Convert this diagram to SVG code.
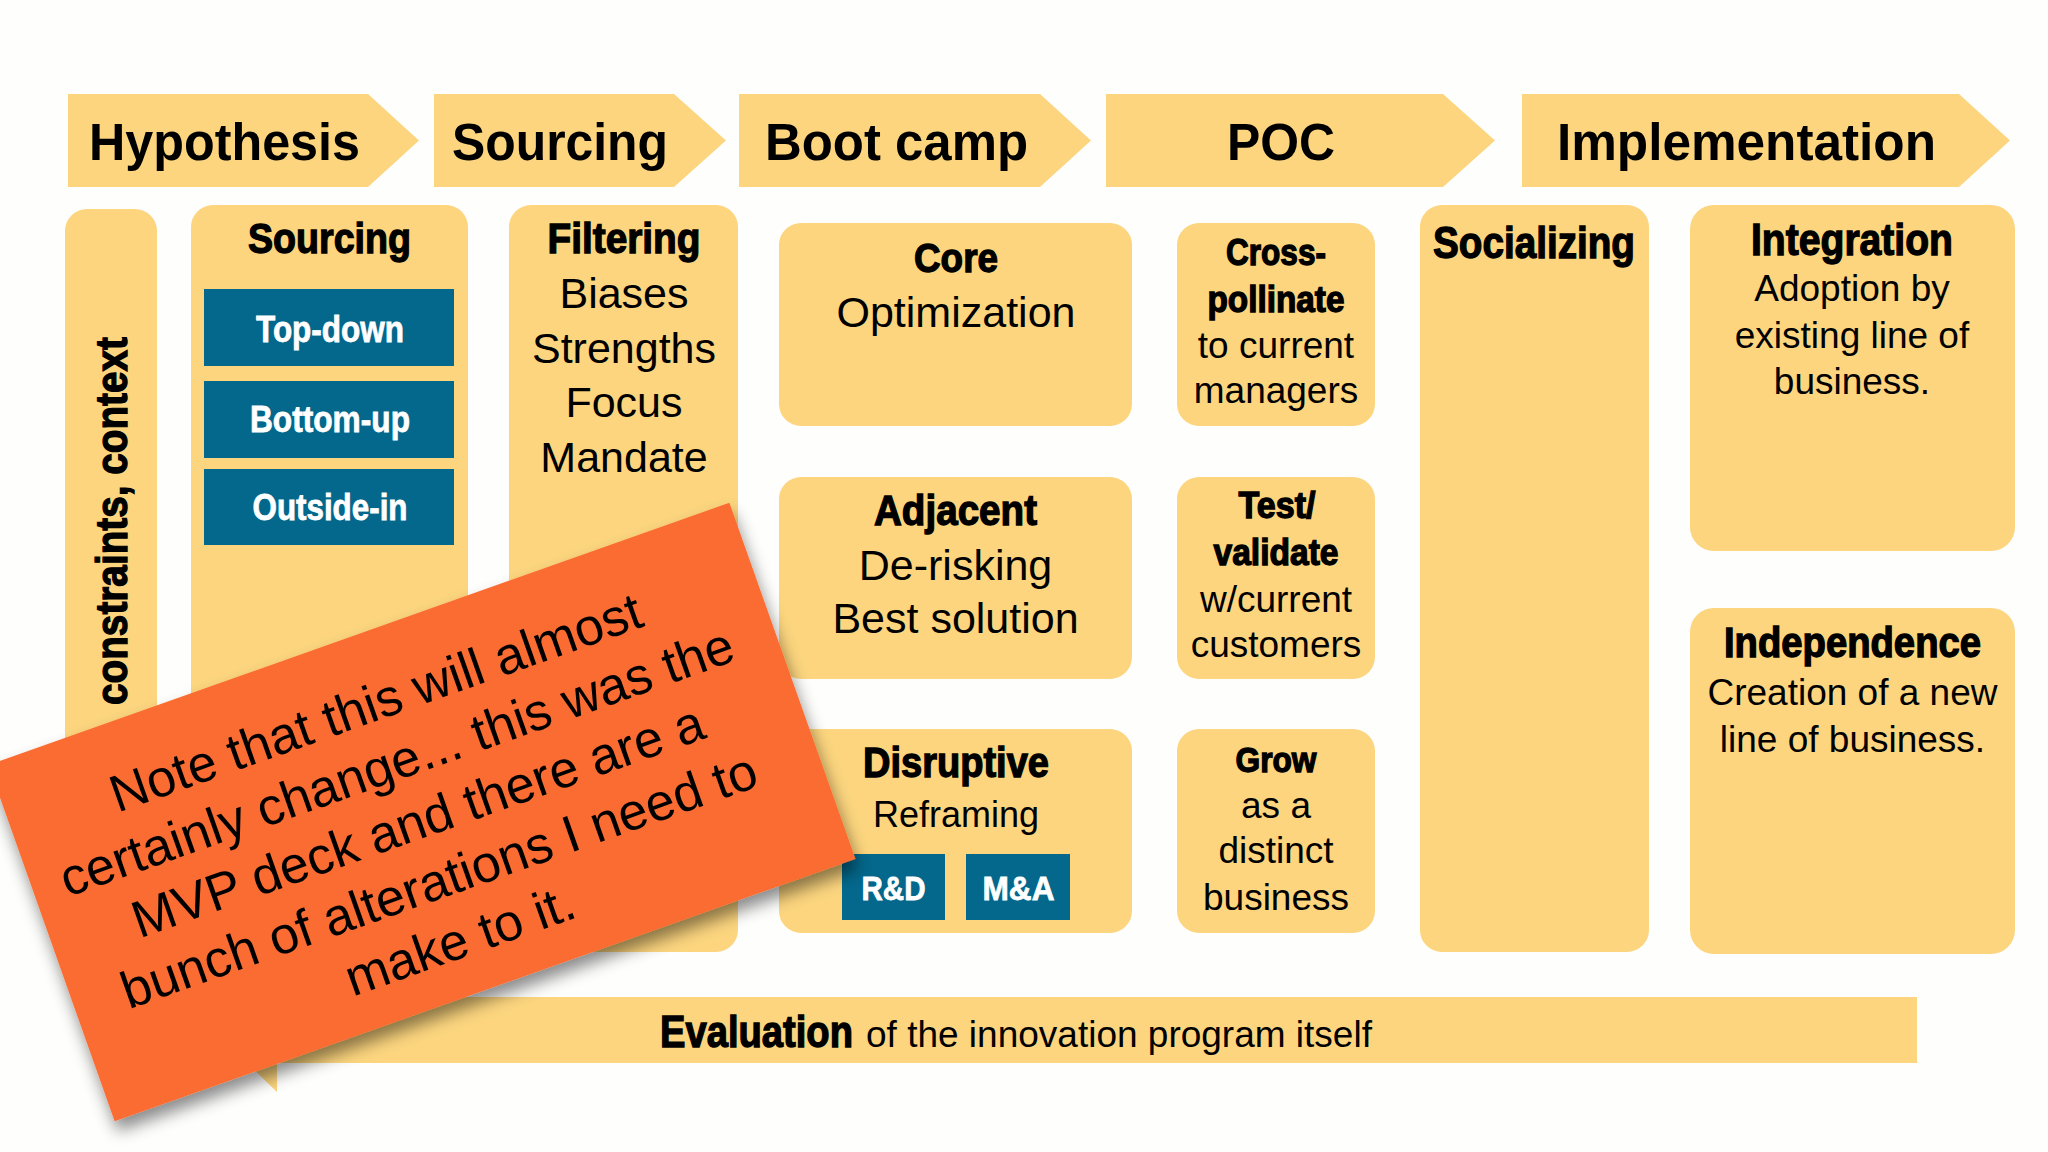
<svg xmlns="http://www.w3.org/2000/svg" width="2048" height="1152" viewBox="0 0 2048 1152">
  <defs>
    <filter id="shadow" x="-15%" y="-15%" width="130%" height="140%">
      <feDropShadow dx="3" dy="10" stdDeviation="8" flood-color="#000" flood-opacity="0.45"/>
    </filter>
  </defs>
  <style>
    .bg { fill: #fefefd; }
    .y { fill: #fcd57e; }
    .blue { fill: #03688c; }
    .note { fill: #fb6c32; }
    .hd { font-family: 'Liberation Sans', Arial, sans-serif; font-weight: bold; font-size: 51px; fill: #000; }
    .bc { font-family: 'Liberation Sans Narrow', 'Liberation Sans', Arial, sans-serif; font-weight: bold; fill: #000; stroke: #000; stroke-width: 1.3px; }
    .wc { font-family: 'Liberation Sans Narrow', 'Liberation Sans', Arial, sans-serif; font-weight: bold; fill: #fff; stroke: #fff; stroke-width: 0.8px; text-anchor: middle; }
    .rg { font-family: 'Liberation Sans', Arial, sans-serif; font-weight: normal; fill: #000; }
    .m { text-anchor: middle; }
    .nt { font-family: 'Liberation Sans', Arial, sans-serif; font-size: 52px; fill: #000; text-anchor: middle; }
  </style>

  <rect class="bg" x="0" y="0" width="2048" height="1152"/>

  <!-- Header chevrons -->
  <g id="phase-hypothesis">
    <path class="y" d="M68 94 H368 L419 140.5 L368 187 H68 Z"/>
    <text class="hd" x="89" y="160" textLength="271" lengthAdjust="spacingAndGlyphs">Hypothesis</text>
  </g>
  <g id="phase-sourcing">
    <path class="y" d="M434 94 H674 L726 140.5 L674 187 H434 Z"/>
    <text class="hd" x="452" y="160" textLength="216" lengthAdjust="spacingAndGlyphs">Sourcing</text>
  </g>
  <g id="phase-bootcamp">
    <path class="y" d="M739 94 H1040 L1091 140.5 L1040 187 H739 Z"/>
    <text class="hd" x="765" y="160" textLength="263" lengthAdjust="spacingAndGlyphs">Boot camp</text>
  </g>
  <g id="phase-poc">
    <path class="y" d="M1106 94 H1443 L1495 140.5 L1443 187 H1106 Z"/>
    <text class="hd" x="1227" y="160" textLength="108" lengthAdjust="spacingAndGlyphs">POC</text>
  </g>
  <g id="phase-implementation">
    <path class="y" d="M1522 94 H1959 L2010 140.5 L1959 187 H1522 Z"/>
    <text class="hd" x="1557" y="160" textLength="379" lengthAdjust="spacingAndGlyphs">Implementation</text>
  </g>

  <!-- Constraints column -->
  <g id="constraints">
    <rect class="y" x="65" y="209" width="92" height="743" rx="22"/>
    <text class="bc" font-size="44" transform="translate(127,705) rotate(-90)" x="0" y="0" textLength="368" lengthAdjust="spacingAndGlyphs">constraints, context</text>
  </g>

  <!-- Sourcing column -->
  <g id="sourcing">
    <rect class="y" x="191" y="205" width="277" height="747" rx="22"/>
    <text class="bc m" font-size="43" x="329.5" y="253" textLength="163" lengthAdjust="spacingAndGlyphs">Sourcing</text>
    <g id="top-down">
      <rect class="blue" x="204" y="289" width="250" height="77"/>
      <text class="wc" font-size="37" x="330" y="342" textLength="148" lengthAdjust="spacingAndGlyphs">Top-down</text>
    </g>
    <g id="bottom-up">
      <rect class="blue" x="204" y="381" width="250" height="77"/>
      <text class="wc" font-size="37" x="330" y="432" textLength="160" lengthAdjust="spacingAndGlyphs">Bottom-up</text>
    </g>
    <g id="outside-in">
      <rect class="blue" x="204" y="469" width="250" height="76"/>
      <text class="wc" font-size="37" x="330" y="520" textLength="155" lengthAdjust="spacingAndGlyphs">Outside-in</text>
    </g>
  </g>

  <!-- Filtering column -->
  <g id="filtering">
    <rect class="y" x="509" y="205" width="229" height="747" rx="22"/>
    <text class="bc m" font-size="43" x="624" y="253" textLength="153" lengthAdjust="spacingAndGlyphs">Filtering</text>
    <text class="rg m" font-size="43" x="624" y="308">Biases</text>
    <text class="rg m" font-size="43" x="624" y="363">Strengths</text>
    <text class="rg m" font-size="43" x="624" y="417">Focus</text>
    <text class="rg m" font-size="43" x="624" y="472">Mandate</text>
  </g>

  <!-- Boot camp boxes -->
  <g id="core">
    <rect class="y" x="779" y="223" width="353" height="203" rx="22"/>
    <text class="bc m" font-size="40" x="956" y="272" textLength="84" lengthAdjust="spacingAndGlyphs">Core</text>
    <text class="rg m" font-size="43" x="956" y="327">Optimization</text>
  </g>
  <g id="adjacent">
    <rect class="y" x="779" y="477" width="353" height="202" rx="22"/>
    <text class="bc m" font-size="42" x="955.5" y="525" textLength="163" lengthAdjust="spacingAndGlyphs">Adjacent</text>
    <text class="rg m" font-size="43" x="955.5" y="580">De-risking</text>
    <text class="rg m" font-size="43" x="955.5" y="633">Best solution</text>
  </g>
  <g id="disruptive">
    <rect class="y" x="779" y="729" width="353" height="204" rx="22"/>
    <text class="bc m" font-size="42" x="956" y="777" textLength="186" lengthAdjust="spacingAndGlyphs">Disruptive</text>
    <text class="rg m" font-size="36" x="956" y="827">Reframing</text>
    <g id="rnd">
      <rect class="blue" x="842" y="854" width="103" height="66"/>
      <text class="wc" font-size="34" x="893.5" y="900" textLength="64" lengthAdjust="spacingAndGlyphs">R&amp;D</text>
    </g>
    <g id="mna">
      <rect class="blue" x="966" y="854" width="104" height="66"/>
      <text class="wc" font-size="34" x="1018.5" y="900" textLength="72" lengthAdjust="spacingAndGlyphs">M&amp;A</text>
    </g>
  </g>

  <!-- POC boxes -->
  <g id="cross-pollinate">
    <rect class="y" x="1177" y="223" width="198" height="203" rx="22"/>
    <text class="bc m" font-size="36" x="1276" y="265" textLength="100" lengthAdjust="spacingAndGlyphs">Cross-</text>
    <text class="bc m" font-size="36" x="1276" y="312" textLength="137" lengthAdjust="spacingAndGlyphs">pollinate</text>
    <text class="rg m" font-size="37" x="1276" y="358">to current</text>
    <text class="rg m" font-size="37" x="1276" y="403">managers</text>
  </g>
  <g id="test-validate">
    <rect class="y" x="1177" y="477" width="198" height="202" rx="22"/>
    <text class="bc m" font-size="36" x="1277" y="518" textLength="77" lengthAdjust="spacingAndGlyphs">Test/</text>
    <text class="bc m" font-size="36" x="1276" y="565" textLength="125" lengthAdjust="spacingAndGlyphs">validate</text>
    <text class="rg m" font-size="37" x="1276" y="612">w/current</text>
    <text class="rg m" font-size="37" x="1276" y="657">customers</text>
  </g>
  <g id="grow">
    <rect class="y" x="1177" y="729" width="198" height="204" rx="22"/>
    <text class="bc m" font-size="35" x="1276" y="772" textLength="81" lengthAdjust="spacingAndGlyphs">Grow</text>
    <text class="rg m" font-size="37" x="1276" y="818">as a</text>
    <text class="rg m" font-size="37" x="1276" y="863">distinct</text>
    <text class="rg m" font-size="37" x="1276" y="910">business</text>
  </g>

  <!-- Implementation -->
  <g id="socializing">
    <rect class="y" x="1420" y="205" width="229" height="747" rx="22"/>
    <text class="bc m" font-size="44" x="1534" y="258" textLength="202" lengthAdjust="spacingAndGlyphs">Socializing</text>
  </g>
  <g id="integration">
    <rect class="y" x="1690" y="205" width="325" height="346" rx="24"/>
    <text class="bc m" font-size="44" x="1852" y="255" textLength="202" lengthAdjust="spacingAndGlyphs">Integration</text>
    <text class="rg m" font-size="37" x="1852" y="301">Adoption by</text>
    <text class="rg m" font-size="37" x="1852" y="348">existing line of</text>
    <text class="rg m" font-size="37" x="1852" y="394">business.</text>
  </g>
  <g id="independence">
    <rect class="y" x="1690" y="608" width="325" height="346" rx="24"/>
    <text class="bc m" font-size="42" x="1852.5" y="657" textLength="257" lengthAdjust="spacingAndGlyphs">Independence</text>
    <text class="rg m" font-size="37" x="1852.5" y="705">Creation of a new</text>
    <text class="rg m" font-size="37" x="1852.5" y="752">line of business.</text>
  </g>

  <!-- Evaluation feedback arrow -->
  <g id="evaluation">
    <path class="y" d="M1917 997 H277 V968 L213 1030 L277 1092 V1063 H1917 Z"/>
    <text class="bc" font-size="44" x="660" y="1047" textLength="193" lengthAdjust="spacingAndGlyphs">Evaluation</text>
    <text class="rg" font-size="37" x="866" y="1047">of the innovation program itself</text>
  </g>

  <g id="connectors"></g>

  <!-- Sticky note -->
  <g id="note">
    <g filter="url(#shadow)">
      <rect class="note" x="-393" y="-189" width="786" height="378" transform="translate(422,812) rotate(-19.5)"/>
    </g>
    <g transform="translate(422,812) rotate(-19.5)">
      <text class="nt" x="-7" y="-101">Note that this will almost</text>
      <text class="nt" x="-7" y="-38">certainly change... this was the</text>
      <text class="nt" x="-7" y="25">MVP deck and there are a</text>
      <text class="nt" x="-7" y="88">bunch of alterations I need to</text>
      <text class="nt" x="-7" y="151">make to it.</text>
    </g>
  </g>
</svg>
